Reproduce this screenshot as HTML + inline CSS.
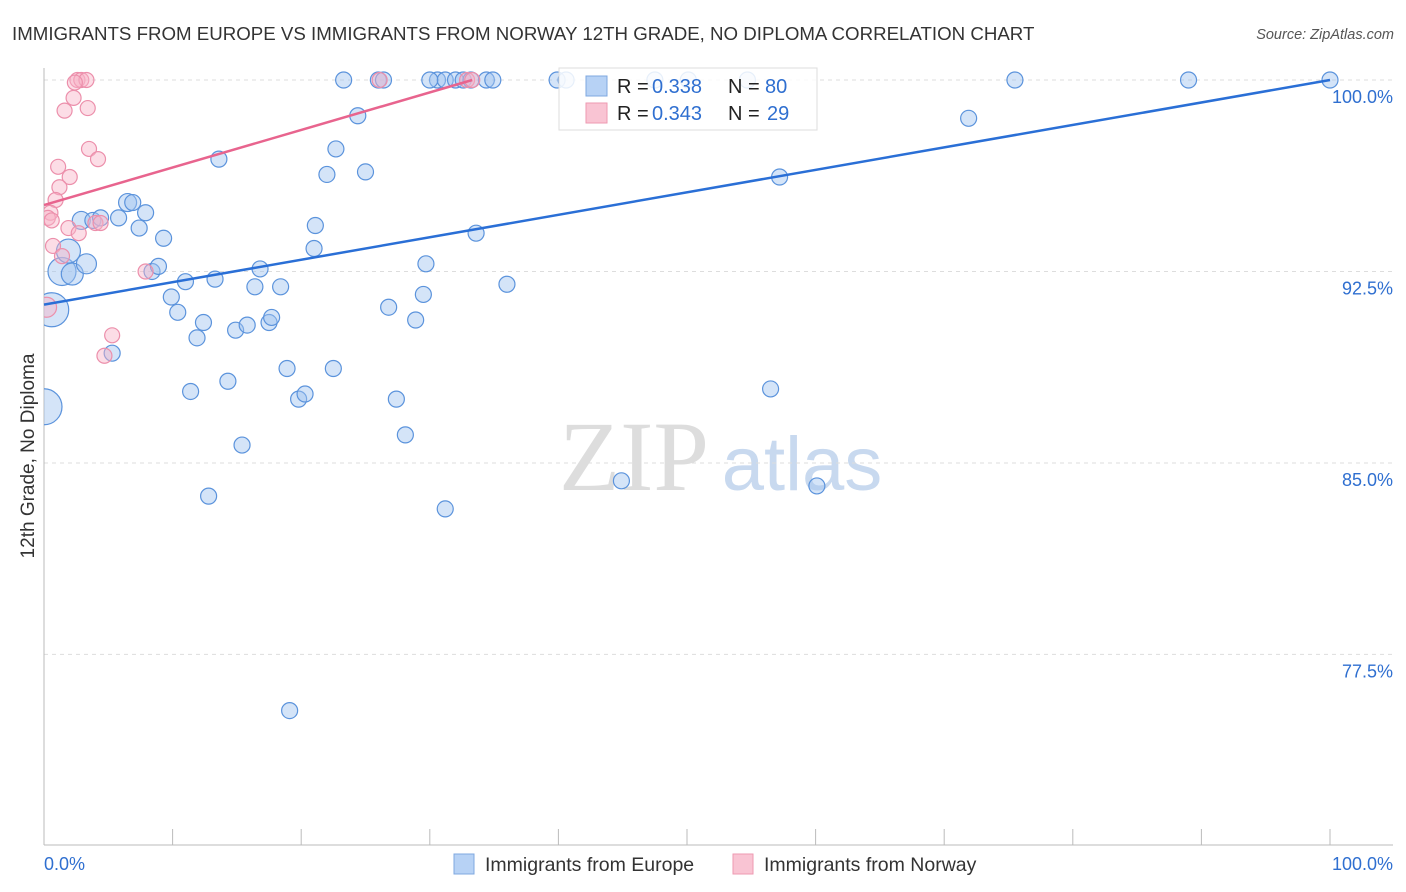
<!DOCTYPE html>
<html><head><meta charset="utf-8"><style>
body{margin:0;background:#fff;font-family:"Liberation Sans",sans-serif}
svg{display:block}
</style></head><body>
<svg id="c" width="1406" height="892">
<defs><clipPath id="plot"><rect x="44" y="60" width="1360" height="785"/></clipPath></defs>
<text x="12" y="40" font-size="18.7" fill="#333">IMMIGRANTS FROM EUROPE VS IMMIGRANTS FROM NORWAY 12TH GRADE, NO DIPLOMA CORRELATION CHART</text>
<text x="1394" y="39" font-size="14.5" fill="#555" text-anchor="end" font-style="italic">Source: ZipAtlas.com</text>
<text x="634" y="490" font-size="100" fill="#ddd" font-family="Liberation Serif,serif" text-anchor="middle">ZIP</text>
<text x="802" y="490" font-size="76" fill="#c8d9ef" text-anchor="middle">atlas</text>
<text transform="translate(34,456) rotate(-90)" font-size="19" fill="#333" text-anchor="middle">12th Grade, No Diploma</text>
<g id="grid"></g><g id="pts" clip-path="url(#plot)"></g><g id="trend"></g>
<g>
<rect x="559" y="68" width="258" height="62" fill="rgba(255,255,255,0.85)" stroke="#ddd"/>
<rect x="586" y="76" width="21" height="20" fill="#b7d2f5" stroke="#7fa8e0"/>
<rect x="586" y="103" width="21" height="20" fill="#f9c4d3" stroke="#ee9ab2"/>
<text x="617" y="93" font-size="20" fill="#222">R =</text><text x="652" y="93" font-size="20" fill="#2f6fd0">0.338</text>
<text x="728" y="93" font-size="20" fill="#222">N =</text><text x="765" y="93" font-size="20" fill="#2f6fd0">80</text>
<text x="617" y="120" font-size="20" fill="#222">R =</text><text x="652" y="120" font-size="20" fill="#2f6fd0">0.343</text>
<text x="728" y="120" font-size="20" fill="#222">N =</text><text x="767" y="120" font-size="20" fill="#2f6fd0">29</text>
</g>
<g>
<rect x="454" y="854" width="20" height="20" fill="#b7d2f5" stroke="#7fa8e0"/>
<text x="485" y="871" font-size="19.5" fill="#333">Immigrants from Europe</text>
<rect x="733" y="854" width="20" height="20" fill="#f9c4d3" stroke="#ee9ab2"/>
<text x="764" y="871" font-size="19.5" fill="#333">Immigrants from Norway</text>
</g>
<text x="44" y="870" font-size="18" fill="#2f6fd0">0.0%</text>
<text x="1393" y="870" font-size="18" fill="#2f6fd0" text-anchor="end">100.0%</text>
</svg>
<script>
const yTicks=[100,92.5,85,77.5];
const yTickLabels=["100.0%","92.5%","85.0%","77.5%"];
const euroX=[0.6,0,1.4,2.2,1.9,3.3,2.9,3.8,4.4,5.8,6.5,6.9,7.9,7.4,9.3,8.4,8.9,5.3,9.9,10.4,11.0,11.9,12.4,11.4,13.3,14.3,13.6,14.9,15.8,16.8,16.4,17.5,17.7,18.4,18.9,19.8,20.3,15.4,12.8,19.1,21.1,21.0,22.0,22.7,22.5,24.4,25.0,23.3,26.0,26.4,26.8,27.4,28.1,28.9,29.5,29.7,30.6,31.2,32.0,32.6,33.2,34.4,34.9,33.6,36.0,31.2,39.9,40.6,44.9,47.5,50.1,54.7,57.2,56.5,60.1,71.9,75.5,89.0,100,30.0];
const euroY=[91.0,87.2,92.5,92.4,93.3,92.8,94.5,94.5,94.6,94.6,95.2,95.2,94.8,94.2,93.8,92.5,92.7,89.3,91.5,90.9,92.1,89.9,90.5,87.8,92.2,88.2,96.9,90.2,90.4,92.6,91.9,90.5,90.7,91.9,88.7,87.5,87.7,85.7,83.7,75.3,94.3,93.4,96.3,97.3,88.7,98.6,96.4,100,100,100,91.1,87.5,86.1,90.6,91.6,92.8,100,100,100,100,100,100,100,94.0,92.0,83.2,100,100,84.3,100,100,100,96.2,87.9,84.1,98.5,100,100,100,100];
const euroR=[17,18,14,11,12,10,9,8,8,8,9];
const norX=[2.6,2.9,3.3,2.4,2.3,1.6,3.4,3.5,4.2,1.1,2.0,1.2,0.9,0.5,0.3,0.6,1.9,2.7,4.0,0.7,1.4,0.2,7.9,5.3,4.7,26.1,32.9,33.3,4.4];
const norY=[100,100,100,99.9,99.3,98.8,98.9,97.3,96.9,96.6,96.2,95.8,95.3,94.8,94.6,94.5,94.2,94.0,94.4,93.5,93.1,91.1,92.5,90.0,89.2,100,100,100,94.4];
const euroTrend=[91.2,100];
const norTrend=[95.1,100,33.3];
const NS="http://www.w3.org/2000/svg";
const X=v=>44+v*12.86, Y=v=>80+(100-v)*25.53;
function mk(t,a,p){const e=document.createElementNS(NS,t);for(const k in a)e.setAttribute(k,a[k]);p.appendChild(e);return e;}
const g=document.getElementById('grid');
yTicks.forEach((t,i)=>{
 const l=mk('line',{x1:44,x2:1393,y1:Y(t),y2:Y(t),stroke:'#ddd','stroke-dasharray':'4,4'},g);
 
 
 const tx=mk('text',{x:1393,y:Y(t)+23,'font-size':18,fill:'#2f6fd0','text-anchor':'end'},g);
 tx.textContent=yTickLabels[i];
 
 
});
mk('line',{x1:44,x2:44,y1:68,y2:845,stroke:'#bbb'},g);
mk('line',{x1:44,x2:1393,y1:845,y2:845,stroke:'#bbb'},g);
for(let i=0;i<=10;i++){const t=mk('line',{x1:X(i*10),x2:X(i*10),y1:829,y2:845,stroke:'#bbb'},g);
 
 }
const p=document.getElementById('pts');
euroX.forEach((x,i)=>{const c=mk('circle',{cx:X(x),cy:Y(euroY[i]),r:euroR[i]||8,fill:'rgba(160,196,240,0.45)',stroke:'#5b93dc','stroke-width':1.2},p);
 
 });
norX.forEach((x,i)=>{const c=mk('circle',{cx:X(x),cy:Y(norY[i]),r:i==21?10:7.5,fill:'rgba(248,180,200,0.45)',stroke:'#ec8fab','stroke-width':1.2},p);
 
 });
const tr=document.getElementById('trend');
const l1=mk('line',{x1:X(0),y1:Y(euroTrend[0]),x2:X(100),y2:Y(euroTrend[1]),stroke:'#2a6fd6','stroke-width':2.5},tr);


const l2=mk('line',{x1:X(0),y1:Y(norTrend[0]),x2:X(norTrend[2]),y2:Y(norTrend[1]),stroke:'#e8648e','stroke-width':2.5},tr);


</script>
</body></html>
